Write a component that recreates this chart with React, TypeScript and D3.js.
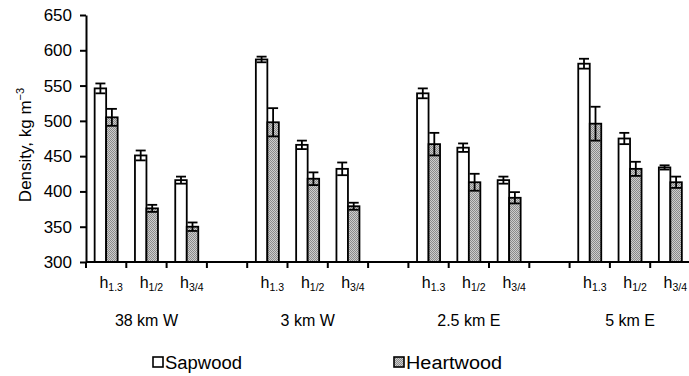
import React, { useRef, useEffect } from "react";
import * as d3 from "d3";

// sampling sites and stem positions
const groups = ["38 km W", "3 km W", "2.5 km E", "5 km E"];
const heightSubs = ["1.3", "1/2", "3/4"];

// density, kg m-3 (site by site, h1.3, h1/2, h3/4)
const sapwood = [546, 451, 416, 587, 466, 432, 539, 462, 416, 581, 475, 434];
const sapwoodErr = [7, 7, 5, 4, 6, 9, 7, 6, 5, 7, 8, 3];
const heartwood = [505, 376, 350, 498, 418, 379, 467, 413, 391, 496, 432, 413];
const heartwoodErr = [12, 5, 6, 20, 9, 5, 16, 12, 8, 24, 10, 8];

const yTicks = [300, 350, 400, 450, 500, 550, 600, 650];
const seriesNames = ["Sapwood", "Heartwood"];

const FONT = "'Liberation Sans', Arial, Helvetica, sans-serif";

const App = () => {
  const ref = useRef<SVGSVGElement>(null);

  useEffect(() => {
    const svg = d3.select(ref.current);
    svg.selectAll("*").remove();

    const width = 689;
    const height = 376;
    const margin = { top: 15, left: 86, bottom: 114 };

    // 15 category slots: 3 per site, a blank slot between sites
    const slots: { key: string; group: number; pos: number }[] = [];
    groups.forEach((g, gi) => {
      heightSubs.forEach((s, hi) => slots.push({ key: `${gi}-${hi}`, group: gi, pos: hi }));
      if (gi < groups.length - 1) slots.push({ key: `gap${gi}`, group: gi, pos: -1 });
    });

    const x = d3
      .scaleBand()
      .domain(slots.map((d) => d.key))
      .range([margin.left, 690.5])
      .padding(0);

    const y = d3
      .scaleLinear()
      .domain([300, 650])
      .range([height - margin.bottom, margin.top]);

    const barW = 11.5;
    const sub = d3
      .scaleBand()
      .domain(seriesNames)
      .range([-barW, barW])
      .padding(0);

    const defs = svg.append("defs");
    const pat = defs
      .append("pattern")
      .attr("id", "stipple")
      .attr("width", 2)
      .attr("height", 2)
      .attr("patternUnits", "userSpaceOnUse");
    pat.append("rect").attr("width", 2).attr("height", 2).attr("fill", "#cdcdcd");
    pat.append("rect").attr("width", 1).attr("height", 1).attr("fill", "#8a8a8a");
    pat.append("rect").attr("x", 1).attr("y", 1).attr("width", 1).attr("height", 1).attr("fill", "#8a8a8a");

    const bars: { key: string; series: string; value: number; err: number }[] = [];
    slots
      .filter((d) => d.pos >= 0)
      .forEach((d, i) => {
        bars.push({ key: d.key, series: "Sapwood", value: sapwood[i], err: sapwoodErr[i] });
        bars.push({ key: d.key, series: "Heartwood", value: heartwood[i], err: heartwoodErr[i] });
      });

    const cx = (k: string) => (x(k) as number) + x.bandwidth() / 2;
    const y0 = y(300);

    svg
      .selectAll(".bar")
      .data(bars)
      .join("rect")
      .attr("class", "bar")
      .attr("x", (d) => cx(d.key) + (sub(d.series) as number))
      .attr("y", (d) => y(d.value))
      .attr("width", sub.bandwidth())
      .attr("height", (d) => y0 - y(d.value))
      .attr("fill", (d) => (d.series === "Sapwood" ? "#fff" : "url(#stipple)"))
      .attr("stroke", "#000")
      .attr("stroke-width", 1.8);

    // error bars
    const eb = svg
      .selectAll(".err")
      .data(bars)
      .join("g")
      .attr("class", "err")
      .attr("stroke", "#000")
      .attr("stroke-width", 1.8);
    const ex = (d: any) => cx(d.key) + (sub(d.series) as number) + sub.bandwidth() / 2;
    eb.append("line")
      .attr("x1", ex)
      .attr("x2", ex)
      .attr("y1", (d) => y(d.value + d.err))
      .attr("y2", (d) => y(d.value - d.err));
    eb.append("line")
      .attr("x1", (d) => ex(d) - 5)
      .attr("x2", (d) => ex(d) + 5)
      .attr("y1", (d) => y(d.value + d.err))
      .attr("y2", (d) => y(d.value + d.err));
    eb.append("line")
      .attr("x1", (d) => ex(d) - 5)
      .attr("x2", (d) => ex(d) + 5)
      .attr("y1", (d) => y(d.value - d.err))
      .attr("y2", (d) => y(d.value - d.err));

    // y axis
    const yAxis = svg
      .append("g")
      .attr("transform", `translate(${margin.left},0)`)
      .call(d3.axisLeft(y).tickValues(yTicks).tickSize(6).tickPadding(8).tickSizeOuter(0));
    yAxis.select(".domain").attr("stroke", "#000").attr("stroke-width", 2);
    yAxis.selectAll(".tick line").attr("stroke", "#000").attr("stroke-width", 2);
    yAxis
      .selectAll(".tick text")
      .attr("font-family", FONT)
      .attr("font-size", 17)
      .attr("fill", "#000");

    // x axis line and slot ticks
    svg
      .append("line")
      .attr("x1", margin.left)
      .attr("x2", width)
      .attr("y1", y0)
      .attr("y2", y0)
      .attr("stroke", "#000")
      .attr("stroke-width", 2);
    svg
      .selectAll(".xtick")
      .data(slots)
      .join("line")
      .attr("class", "xtick")
      .attr("x1", (d) => x(d.key) as number)
      .attr("x2", (d) => x(d.key) as number)
      .attr("y1", y0)
      .attr("y2", y0 + 6)
      .attr("stroke", "#000")
      .attr("stroke-width", 2);

    // h labels
    const hl = svg
      .selectAll(".hlab")
      .data(slots.filter((d) => d.pos >= 0))
      .join("text")
      .attr("class", "hlab")
      .attr("x", (d) => cx(d.key) + 5)
      .attr("y", 288)
      .attr("text-anchor", "middle")
      .attr("font-family", FONT)
      .attr("font-size", 16);
    hl.append("tspan").text("h");
    hl.append("tspan")
      .attr("dy", 3)
      .attr("font-size", 10.5)
      .text((d) => heightSubs[d.pos]);

    // site labels
    svg
      .selectAll(".glab")
      .data(groups)
      .join("text")
      .attr("class", "glab")
      .attr("x", (d, i) => cx(`${i}-1`))
      .attr("y", 326)
      .attr("text-anchor", "middle")
      .attr("font-family", FONT)
      .attr("font-size", 16)
      .text((d) => d);

    // y title
    const yt = svg
      .append("text")
      .attr("transform", "translate(31,145) rotate(-90)")
      .attr("text-anchor", "middle")
      .attr("font-family", FONT)
      .attr("font-size", 17);
    yt.append("tspan").text("Density, kg m");
    yt.append("tspan").attr("dy", -7).attr("font-size", 11).text("\u22123");

    // legend
    const legX = [153, 394];
    const legW = [77, 96];
    const leg = svg
      .selectAll(".leg")
      .data(seriesNames)
      .join("g")
      .attr("class", "leg")
      .attr("transform", (d, i) => `translate(${legX[i]},357)`);
    leg
      .append("rect")
      .attr("width", 10)
      .attr("height", 10)
      .attr("fill", (d) => (d === "Sapwood" ? "#fff" : "url(#stipple)"))
      .attr("stroke", "#000")
      .attr("stroke-width", 1.6);
    leg
      .append("text")
      .attr("x", 12)
      .attr("y", 11.5)
      .attr("font-family", FONT)
      .attr("font-size", 18)
      .attr("textLength", (d, i) => legW[i])
      .attr("lengthAdjust", "spacingAndGlyphs")
      .text((d) => d);
  }, []);

  return (
    <svg
      ref={ref}
      width={689}
      height={376}
      style={{ position: "absolute", left: 0, top: 0, background: "#fff" }}
    />
  );
};

export default App;
